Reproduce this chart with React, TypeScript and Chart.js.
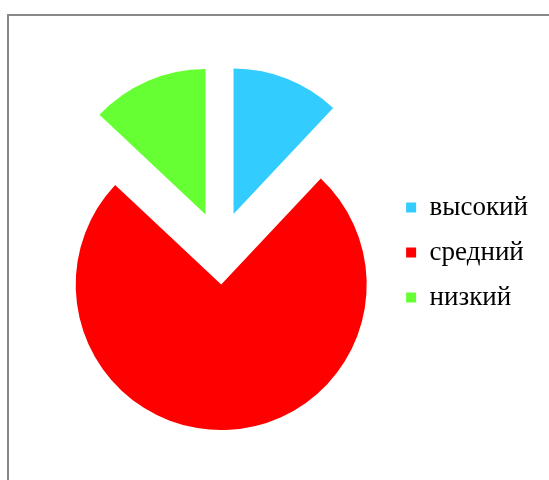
import React, { useEffect, useRef } from 'react';
import { Chart, registerables } from 'chart.js';

Chart.register(...registerables);

const categories = ['высокий', 'средний', 'низкий'];
const values = [12, 75, 13];
const sliceColors = ['#33CCFF', '#FF0000', '#66FF33'];

const EXPLODE = 36.6;
const RADIUS = 145.5;

const explodePlugin = {
  id: 'explodeSlices',
  afterDatasetsUpdate(chart: any) {
    const area = chart.chartArea;
    const cx = (area.left + area.right) / 2;
    const cy = (area.top + area.bottom) / 2;
    const meta = chart.getDatasetMeta(0);
    meta.data.forEach((arc: any) => {
      const mid = (arc.startAngle + arc.endAngle) / 2;
      arc.x = cx + Math.cos(mid) * EXPLODE;
      arc.y = cy + Math.sin(mid) * EXPLODE;
    });
  },
};

export default function App() {
  const canvasRef = useRef<HTMLCanvasElement | null>(null);

  useEffect(() => {
    if (!canvasRef.current) return;
    const chart = new Chart(canvasRef.current, {
      type: 'pie',
      data: {
        labels: categories,
        datasets: [
          {
            data: values,
            backgroundColor: sliceColors,
            borderWidth: 0,
          },
        ],
      },
      options: {
        responsive: false,
        animation: false,
        radius: RADIUS,
        layout: { padding: { left: 52, right: 11, top: 16, bottom: 0 } },
        plugins: {
          tooltip: { enabled: false },
          legend: {
            position: 'right',
            title: {
              display: true,
              text: ' ',
              font: { size: 9, lineHeight: 1 },
              padding: 0,
            },
            labels: {
              font: { family: "'Liberation Serif', 'Times New Roman', serif", size: 27 },
              color: '#000000',
              boxWidth: 10,
              boxHeight: 10,
              padding: 18,
            },
          },
        },
      },
      plugins: [explodePlugin],
    });
    return () => chart.destroy();
  }, []);

  return (
    <div style={{ position: 'absolute', left: 0, top: 0, width: 549, height: 480, overflow: 'hidden', background: '#fff' }}>
      <div
        style={{
          position: 'absolute',
          left: 7,
          top: 14,
          width: 540,
          height: 464,
          borderTop: '2px solid #888888',
          borderLeft: '2px solid #888888',
        }}
      />
      <canvas
        ref={canvasRef}
        width={549}
        height={480}
        style={{ position: 'absolute', left: 0, top: 0, display: 'block' }}
      />
    </div>
  );
}
